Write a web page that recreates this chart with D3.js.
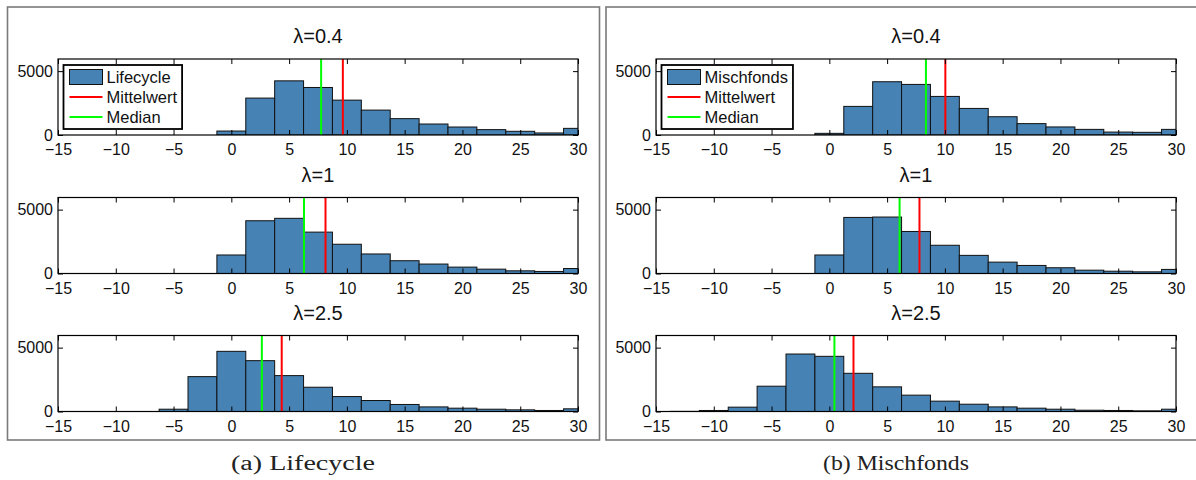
<!DOCTYPE html>
<html>
<head>
<meta charset="utf-8">
<script src="https://cdn.jsdelivr.net/npm/d3@7"></script>
<style>
  html, body { margin: 0; padding: 0; background: #fff; }
  svg { display: block; }
</style>
</head>
<body>
<svg id="chart" width="1196" height="480"></svg>
<script>
// ---- data ----
const binCenters = [-15, -12.5, -10, -7.5, -5, -2.5, 0, 2.5, 5, 7.5, 10, 12.5, 15, 17.5, 20, 22.5, 25, 27.5, 30];
const binWidth = 2.5;
const xTicks = [-15, -10, -5, 0, 5, 10, 15, 20, 25, 30];
const yTicks = [0, 5000];
const lambdaTitles = ["λ=0.4", "λ=1", "λ=2.5"];

const lifecycle04 = [0, 0, 0, 0, 0, 0, 310, 2890, 4240, 3720, 2730, 1950, 1280, 860, 625, 420, 290, 160, 520];
const lifecycle1  = [0, 0, 0, 0, 0, 0, 1450, 4130, 4320, 3240, 2290, 1530, 1000, 740, 500, 340, 210, 160, 390];
const lifecycle25 = [0, 0, 0, 0, 180, 2730, 4710, 3980, 2810, 1900, 1170, 860, 550, 360, 260, 180, 130, 80, 210];

const misch04 = [0, 0, 0, 0, 0, 0, 130, 2240, 4170, 3960, 3020, 2080, 1430, 890, 630, 440, 230, 210, 440];
const misch1  = [0, 0, 0, 0, 0, 0, 1450, 4390, 4420, 3290, 2210, 1420, 890, 630, 450, 260, 180, 130, 320];
const misch25 = [0, 10, 80, 340, 1980, 4500, 4320, 2990, 1930, 1280, 810, 570, 360, 260, 180, 100, 80, 50, 180];

const lifecycleMeans   = [9.65, 8.15, 4.36];
const lifecycleMedians = [7.77, 6.29, 2.64];
const mischMeans   = [10.04, 7.8, 2.09];
const mischMedians = [8.36, 6.08, 0.44];

const panels = [
  { name: "Lifecycle", caption: "(a) Lifecycle", series: [lifecycle04, lifecycle1, lifecycle25],
    means: lifecycleMeans, medians: lifecycleMedians },
  { name: "Mischfonds", caption: "(b) Mischfonds", series: [misch04, misch1, misch25],
    means: mischMeans, medians: mischMedians }
];
const legendLabels = ["Mittelwert", "Median"];

// ---- layout ----
const svg = d3.select("#chart");
const panelFrames = [{ x: 7.5, w: 592 }, { x: 606, w: 610 }];
const axesX = [[58, 578], [656, 1176]];
const axesTop = [59, 197.5, 335.5];
const axesH = 76;
const yMax = 5950;
const barColor = "#4682B4";
const font = "'Liberation Sans', Arial, Helvetica, sans-serif";

panels.forEach((p, pi) => {
  // panel frame
  svg.append("rect")
    .attr("x", panelFrames[pi].x).attr("y", 7)
    .attr("width", panelFrames[pi].w).attr("height", 433)
    .attr("fill", "none").attr("stroke", "#7a7a7a").attr("stroke-width", 1.6);

  // caption
  const cx = pi === 0 ? 303 : 896;
  svg.append("text")
    .attr("x", cx).attr("y", 470)
    .attr("text-anchor", "middle")
    .attr("font-family", "'Liberation Serif', 'Times New Roman', serif")
    .attr("font-size", 20)
    .attr("fill", "#222")
    .attr("textLength", pi === 0 ? 144 : 146)
    .attr("lengthAdjust", "spacingAndGlyphs")
    .text(p.caption);

  const x = d3.scaleLinear().domain([-15, 30]).range(axesX[pi]);

  p.series.forEach((vals, si) => {
    const top = axesTop[si];
    const y = d3.scaleLinear().domain([0, yMax]).range([top + axesH, top]);
    const g = svg.append("g");
    const clipId = `clip-${pi}-${si}`;
    g.append("clipPath").attr("id", clipId)
      .append("rect")
      .attr("x", axesX[pi][0]).attr("y", top - 1)
      .attr("width", axesX[pi][1] - axesX[pi][0]).attr("height", axesH + 1);

    // title
    g.append("text")
      .attr("x", (axesX[pi][0] + axesX[pi][1]) / 2)
      .attr("y", top - 16)
      .attr("text-anchor", "middle")
      .attr("font-family", font).attr("font-size", 20)
      .attr("fill", "#111")
      .text(lambdaTitles[si]);

    // bars
    const bars = g.append("g").attr("clip-path", `url(#${clipId})`);
    bars.selectAll("rect")
      .data(binCenters.map((c, i) => ({ c, v: vals[i] })))
      .join("rect")
      .attr("x", d => x(d.c - binWidth / 2))
      .attr("width", d => x(d.c + binWidth / 2) - x(d.c - binWidth / 2))
      .attr("y", d => y(d.v))
      .attr("height", d => y(0) - y(d.v))
      .attr("fill", barColor)
      .attr("stroke", "#111")
      .attr("stroke-width", 1);

    // mean / median lines
    bars.append("line")
      .attr("x1", x(p.medians[si])).attr("x2", x(p.medians[si]))
      .attr("y1", y(yMax)).attr("y2", y(0))
      .attr("stroke", "#00ff00").attr("stroke-width", 2);
    bars.append("line")
      .attr("x1", x(p.means[si])).attr("x2", x(p.means[si]))
      .attr("y1", y(yMax)).attr("y2", y(0))
      .attr("stroke", "#ff0000").attr("stroke-width", 2);

    // axes (box with inward ticks)
    const axBottom = g.append("g").attr("transform", `translate(0,${top + axesH})`)
      .call(d3.axisBottom(x).tickValues(xTicks).tickSize(-5).tickPadding(9).tickFormat(d3.format("d")));
    const axTop = g.append("g").attr("transform", `translate(0,${top})`)
      .call(d3.axisTop(x).tickValues(xTicks).tickSize(-5).tickFormat(""));
    const axLeft = g.append("g").attr("transform", `translate(${axesX[pi][0]},0)`)
      .call(d3.axisLeft(y).tickValues(yTicks).tickSize(-5).tickPadding(9).tickFormat(d3.format("d")));
    const axRight = g.append("g").attr("transform", `translate(${axesX[pi][1]},0)`)
      .call(d3.axisRight(y).tickValues(yTicks).tickSize(-5).tickFormat(""));
    [axBottom, axTop, axLeft, axRight].forEach(a => {
      a.selectAll(".domain").attr("stroke", "#000").attr("stroke-width", 1.2)
        .attr("d", function () { return d3.select(this).attr("d").replace(/V[-0-9.]+/g, m => m).replace(/^M([-0-9.]+),([-0-9.]+)V/, "M$1,$2V"); });
      a.selectAll(".tick line").attr("stroke", "#000");
      a.selectAll("text").attr("font-family", font).attr("font-size", 16).attr("fill", "#111");
    });
    // clean box outline drawn explicitly
    g.append("rect")
      .attr("x", axesX[pi][0]).attr("y", top)
      .attr("width", axesX[pi][1] - axesX[pi][0]).attr("height", axesH)
      .attr("fill", "none").attr("stroke", "#000").attr("stroke-width", 1.2);
    axBottom.selectAll(".domain").remove();
    axTop.selectAll(".domain").remove();
    axLeft.selectAll(".domain").remove();
    axRight.selectAll(".domain").remove();
    axBottom.selectAll("text").attr("dy", "0.71em").attr("y", 9);
    axLeft.selectAll("text").attr("x", -5);

    // legend only on top subplot
    if (si === 0) {
      const lx = axesX[pi][0] + 5.5;
      const ly = top + 6;
      const lg = g.append("g");
      const box = lg.append("rect")
        .attr("x", lx).attr("y", ly).attr("height", 64)
        .attr("fill", "#fff").attr("stroke", "#000").attr("stroke-width", 1.8);
      const labels = [p.name].concat(legendLabels);
      const rowY = [ly + 12, ly + 32, ly + 52];
      lg.append("rect")
        .attr("x", lx + 6).attr("y", rowY[0] - 7.5)
        .attr("width", 33).attr("height", 15)
        .attr("fill", barColor).attr("stroke", "#111").attr("stroke-width", 1);
      lg.append("line")
        .attr("x1", lx + 6).attr("x2", lx + 39).attr("y1", rowY[1]).attr("y2", rowY[1])
        .attr("stroke", "#ff0000").attr("stroke-width", 2);
      lg.append("line")
        .attr("x1", lx + 6).attr("x2", lx + 39).attr("y1", rowY[2]).attr("y2", rowY[2])
        .attr("stroke", "#00ff00").attr("stroke-width", 2);
      let maxW = 0;
      labels.forEach((t, i) => {
        const tx = lg.append("text")
          .attr("x", lx + 43).attr("y", rowY[i]).attr("dy", "0.36em")
          .attr("font-family", font).attr("font-size", 16.5).attr("fill", "#111")
          .text(t);
        maxW = Math.max(maxW, tx.node().getComputedTextLength());
      });
      box.attr("width", 43 + maxW + 5);
    }
  });
});
</script>
</body>
</html>
